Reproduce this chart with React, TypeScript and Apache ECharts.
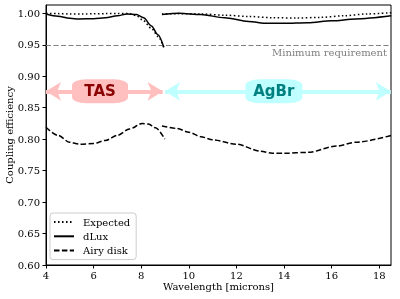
import React, { useEffect, useRef } from "react";
import * as echarts from "echarts";

// ---- data ----
const expectedX1 = [4, 4.5, 5, 5.5, 6, 6.5, 7, 7.5, 7.8, 8.07, 8.43, 8.71, 8.98];
const expectedY1 = [1.0, 0.9995, 0.999, 0.999, 0.9992, 0.9995, 0.9998, 0.9995, 0.996, 0.989, 0.976, 0.963, 0.942];
const expectedX2 = [8.87, 9.5, 10.5, 11.5, 12.5, 13.5, 14.5, 15.5, 16.5, 17.5, 18.5];
const expectedY2 = [0.999, 0.9995, 0.999, 0.997, 0.995, 0.993, 0.9925, 0.9935, 0.996, 0.999, 1.001];

const dluxX1 = [4, 4.5, 5, 5.4, 6, 6.5, 7, 7.4, 7.8, 8.1, 8.43, 8.7, 8.95];
const dluxY1 = [0.999, 0.9955, 0.992, 0.991, 0.9915, 0.993, 0.996, 0.999, 0.998, 0.993, 0.98, 0.966, 0.946];
const dluxX2 = [8.87, 9.6, 10.5, 11.5, 12.5, 13.3, 14, 15, 16, 17, 18.5];
const dluxY2 = [0.998, 1.0, 0.998, 0.993, 0.987, 0.984, 0.984, 0.985, 0.988, 0.991, 0.996];

const airyX1 = [4, 4.5, 5, 5.4, 6, 6.5, 7, 7.5, 8.05, 8.3, 8.6, 8.99];
const airyY1 = [0.819, 0.806, 0.795, 0.792, 0.793, 0.798, 0.806, 0.816, 0.825, 0.824, 0.818, 0.8];
const airyX2 = [8.87, 9.5, 10, 10.5, 11, 12, 13, 13.5, 14, 15, 16.2, 17, 18.5];
const airyY2 = [0.821, 0.817, 0.811, 0.804, 0.799, 0.792, 0.781, 0.7775, 0.7775, 0.779, 0.789, 0.795, 0.806];

const requirement = 0.95;
const bandY = 0.876;
const tasRange = [4.0, 8.9];
const agbrRange = [9.0, 18.48];
const tasLabelX = 6.27;
const agbrLabelX = 13.57;

const xTicks = [4, 6, 8, 10, 12, 14, 16, 18];
const yTicks = [0.6, 0.65, 0.7, 0.75, 0.8, 0.85, 0.9, 0.95, 1.0];
const xRange = [4, 18.49];
const yRange = [0.6, 1.0132];

const seriesNames = ["Expected", "dLux", "Airy disk"];

const zip = (xs: number[], ys: number[]) => xs.map((x, i) => [x, ys[i]]);

const SERIF = "DejaVu Serif";
const PINK = "#ffbfbf";
const CYAN = "#bfffff";

export default function App() {
  const ref = useRef<HTMLDivElement>(null);
  useEffect(() => {
    if (!ref.current) return;
    const chart = echarts.init(ref.current, null, { renderer: "svg" });

    const styles: Record<string, any> = {
      Expected: { type: [1.5, 2.5], width: 1.5, color: "#000" },
      dLux: { type: "solid", width: 1.5, color: "#000" },
      "Airy disk": { type: [5.5, 2.4], width: 1.5, color: "#000" },
    };
    const mk = (name: string, data: number[][]) => ({
      name,
      type: "line",
      data,
      symbol: "none",
      showSymbol: false,
      smooth: 0.3,
      smoothMonotone: "x",
      lineStyle: styles[name],
      itemStyle: { color: "#000" },
      silent: true,
      z: 5,
    });

    const option: any = {
      animation: false,
      grid: {
        left: 46,
        right: 9,
        top: 5,
        bottom: 34,
        outerBoundsMode: "none",
        containLabel: false,
        show: true,
        borderColor: "#000",
        borderWidth: 1,
        backgroundColor: "transparent",
      },
      legend: {
        data: seriesNames,
        orient: "vertical",
        left: 50,
        top: 213,
        padding: [4, 6, 4, 3],
        itemWidth: 20,
        itemHeight: 10,
        itemGap: 4.3,
        backgroundColor: "#fff",
        borderColor: "#cccccc",
        borderWidth: 1,
        borderRadius: 3,
        itemStyle: { opacity: 0, color: "transparent", borderWidth: 0 },
        textStyle: { fontFamily: SERIF, fontSize: 10, color: "#000", padding: [0, 0, 0, 4] },
        selectedMode: false,
      },
      xAxis: {
        type: "value",
        min: xRange[0],
        max: xRange[1],
        name: "Wavelength [microns]",
        nameLocation: "middle",
        nameGap: 16,
        nameMoveOverlap: false,
        nameTextStyle: { fontFamily: SERIF, fontSize: 10, color: "#000" },
        axisLine: { show: true, onZero: false, lineStyle: { color: "#000", width: 1 } },
        axisTick: { show: true, inside: false, length: 3.5, customValues: xTicks, lineStyle: { color: "#000" } },
        axisLabel: {
          customValues: xTicks,
          fontFamily: SERIF,
          fontSize: 10,
          color: "#000",
          margin: 5,
          formatter: (v: number) => String(v),
        },
        splitLine: { show: false },
      },
      yAxis: {
        type: "value",
        min: yRange[0],
        max: yRange[1],
        name: "Coupling efficiency",
        nameLocation: "middle",
        nameGap: 32,
        nameMoveOverlap: false,
        nameTextStyle: { fontFamily: SERIF, fontSize: 10, color: "#000" },
        axisLine: { show: true, onZero: false, lineStyle: { color: "#000", width: 1 } },
        axisTick: { show: true, inside: false, length: 3.5, customValues: yTicks, lineStyle: { color: "#000" } },
        axisLabel: {
          customValues: yTicks,
          fontFamily: SERIF,
          fontSize: 10,
          color: "#000",
          margin: 6,
          formatter: (v: number) => v.toFixed(2),
        },
        splitLine: { show: false },
      },
      series: [
        mk("Expected", zip(expectedX1, expectedY1)),
        mk("dLux", zip(dluxX1, dluxY1)),
        mk("Airy disk", zip(airyX1, airyY1)),
        mk("Expected", zip(expectedX2, expectedY2)),
        mk("dLux", zip(dluxX2, dluxY2)),
        mk("Airy disk", zip(airyX2, airyY2)),
        {
          name: "annot",
          type: "line",
          data: [],
          silent: true,
          z: 3,
          markLine: {
            silent: true,
            animation: false,
            data: [
              [
                {
                  coord: [xRange[0], requirement],
                  symbol: "none",
                  lineStyle: { color: "#808080", width: 1.2, type: [5, 2.5] },
                  label: {
                    show: true,
                    position: "insideEndBottom",
                    formatter: "Minimum requirement",
                    fontFamily: SERIF,
                    fontSize: 10,
                    color: "#808080",
                    distance: [4, 3],
                  },
                },
                { coord: [xRange[1], requirement], symbol: "none" },
              ],
              [
                {
                  coord: [tasRange[0], bandY],
                  symbol: "arrow",
                  symbolSize: [14, 15],
                  lineStyle: { color: PINK, width: 4, type: "solid" },
                  itemStyle: { color: PINK },
                  label: { show: false },
                },
                { coord: [tasRange[1], bandY], symbol: "arrow", symbolSize: [14, 15] },
              ],
              [
                {
                  coord: [agbrRange[0], bandY],
                  symbol: "arrow",
                  symbolSize: [14, 15],
                  lineStyle: { color: CYAN, width: 4, type: "solid" },
                  itemStyle: { color: CYAN },
                  label: { show: false },
                },
                { coord: [agbrRange[1], bandY], symbol: "arrow", symbolSize: [14, 15] },
              ],
            ],
          },
          markPoint: {
            silent: true,
            animation: false,
            data: [
              {
                coord: [tasLabelX, bandY],
                symbol: "roundRect",
                symbolSize: [56, 24],
                itemStyle: { color: PINK },
                label: {
                  show: true,
                  formatter: "TAS",
                  color: "#8b0000",
                  fontFamily: "DejaVu Sans",
                  fontWeight: "bold",
                  fontSize: 15,
                },
              },
              {
                coord: [agbrLabelX, bandY],
                symbol: "roundRect",
                symbolSize: [57, 24],
                itemStyle: { color: CYAN },
                label: {
                  show: true,
                  formatter: "AgBr",
                  color: "#008080",
                  fontFamily: "DejaVu Sans",
                  fontWeight: "bold",
                  fontSize: 15,
                },
              },
            ],
          },
        },
      ],
    };
    chart.setOption(option);
    return () => chart.dispose();
  }, []);

  return <div ref={ref} style={{ width: 400, height: 299, position: "fixed", left: 0, top: 0 }} />;
}
